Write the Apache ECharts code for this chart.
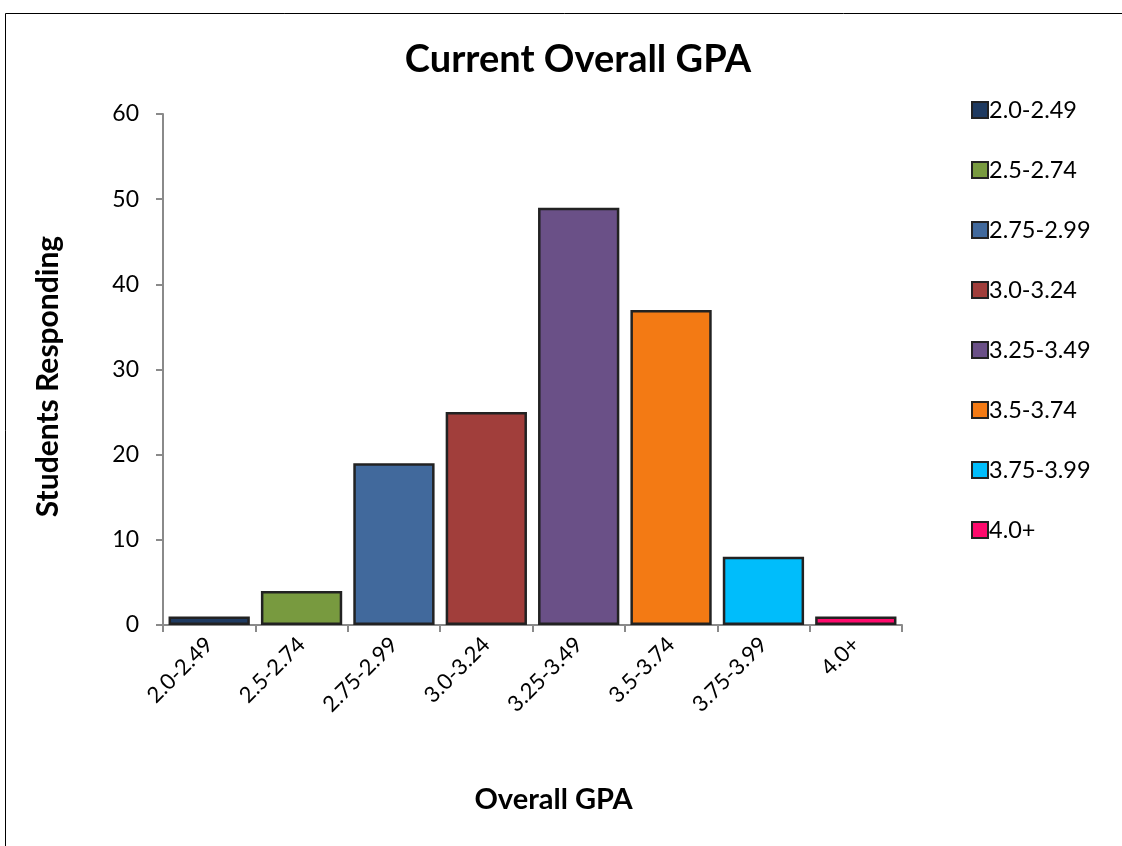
<!DOCTYPE html>
<html><head><meta charset="utf-8">
<script src="https://cdn.jsdelivr.net/npm/echarts@6/dist/echarts.min.js"></script>
<style>html,body{margin:0;padding:0;background:#fff}#c{width:1122px;height:846px}</style>
</head><body><div id="c"></div>
<script>
const categories = ['2.0-2.49','2.5-2.74','2.75-2.99','3.0-3.24','3.25-3.49','3.5-3.74','3.75-3.99','4.0+'];
const values = [1, 4, 19, 25, 49, 37, 8, 1];
const colors = ['#1F3A60','#789A3F','#41699C','#A13E3B','#6A5087','#F37A14','#00BDFB','#FF0A6C'];
const yTicks = {min: 0, max: 60, interval: 10};
const FONT = 'Lato, "Open Sans", sans-serif';

const series = categories.map((name, i) => ({
  name: name,
  type: 'bar',
  stack: 'all',
  barCategoryGap: '12%',
  data: categories.map((_, j) => j === i ? values[i] : '-'),
  itemStyle: { color: colors[i], borderColor: '#222', borderWidth: 2.5 }
}));

const chart = echarts.init(document.getElementById('c'));
chart.setOption({
  animation: false,
  backgroundColor: '#fff',
  graphic: [{ type: 'rect', left: 3, top: 11, shape: { width: 1200, height: 900 }, style: { fill: 'none', stroke: '#000', lineWidth: 1 } }],
  title: { text: 'Current Overall GPA', left: 573, top: 36, textAlign: 'center',
    textStyle: { fontFamily: FONT, fontSize: 38, fontWeight: 'bold', color: '#000' } },
  legend: { orient: 'vertical', left: 966, top: 93, itemWidth: 16, itemHeight: 16, itemGap: 36,
    icon: 'rect', data: categories,
    textStyle: { fontFamily: FONT, fontSize: 23.5, lineHeight: 24, color: '#000', padding: [0,0,0,-4] } },
  grid: { left: 163, top: 114, right: 220, bottom: 221, containLabel: false },
  xAxis: { type: 'category', data: categories,
    name: 'Overall GPA', nameLocation: 'middle', nameGap: 160,
    nameTextStyle: { fontFamily: FONT, fontSize: 29, fontWeight: 'bold', color: '#000', padding: [0,0,0,42] },
    axisLine: { lineStyle: { color: '#8a8a8a', width: 2 } },
    axisTick: { show: true, alignWithLabel: false, length: 7, lineStyle: { color: '#8a8a8a', width: 2 } },
    axisLabel: { rotate: 45, fontFamily: FONT, fontSize: 22, color: '#000', margin: 16, interval: 0 } },
  yAxis: { type: 'value', min: yTicks.min, max: yTicks.max, interval: yTicks.interval,
    name: 'Students Responding', nameLocation: 'middle', nameGap: 100, nameRotate: 90,
    nameTextStyle: { fontFamily: FONT, fontSize: 30, fontWeight: 'bold', color: '#000', padding: [0,14,0,0] },
    axisLine: { show: true, lineStyle: { color: '#8a8a8a', width: 2 } },
    axisTick: { show: true, length: 7, lineStyle: { color: '#8a8a8a', width: 2 } },
    splitLine: { show: false },
    axisLabel: { fontFamily: FONT, fontSize: 23, color: '#000', margin: 24 } },
  series: series
});
</script></body></html>
